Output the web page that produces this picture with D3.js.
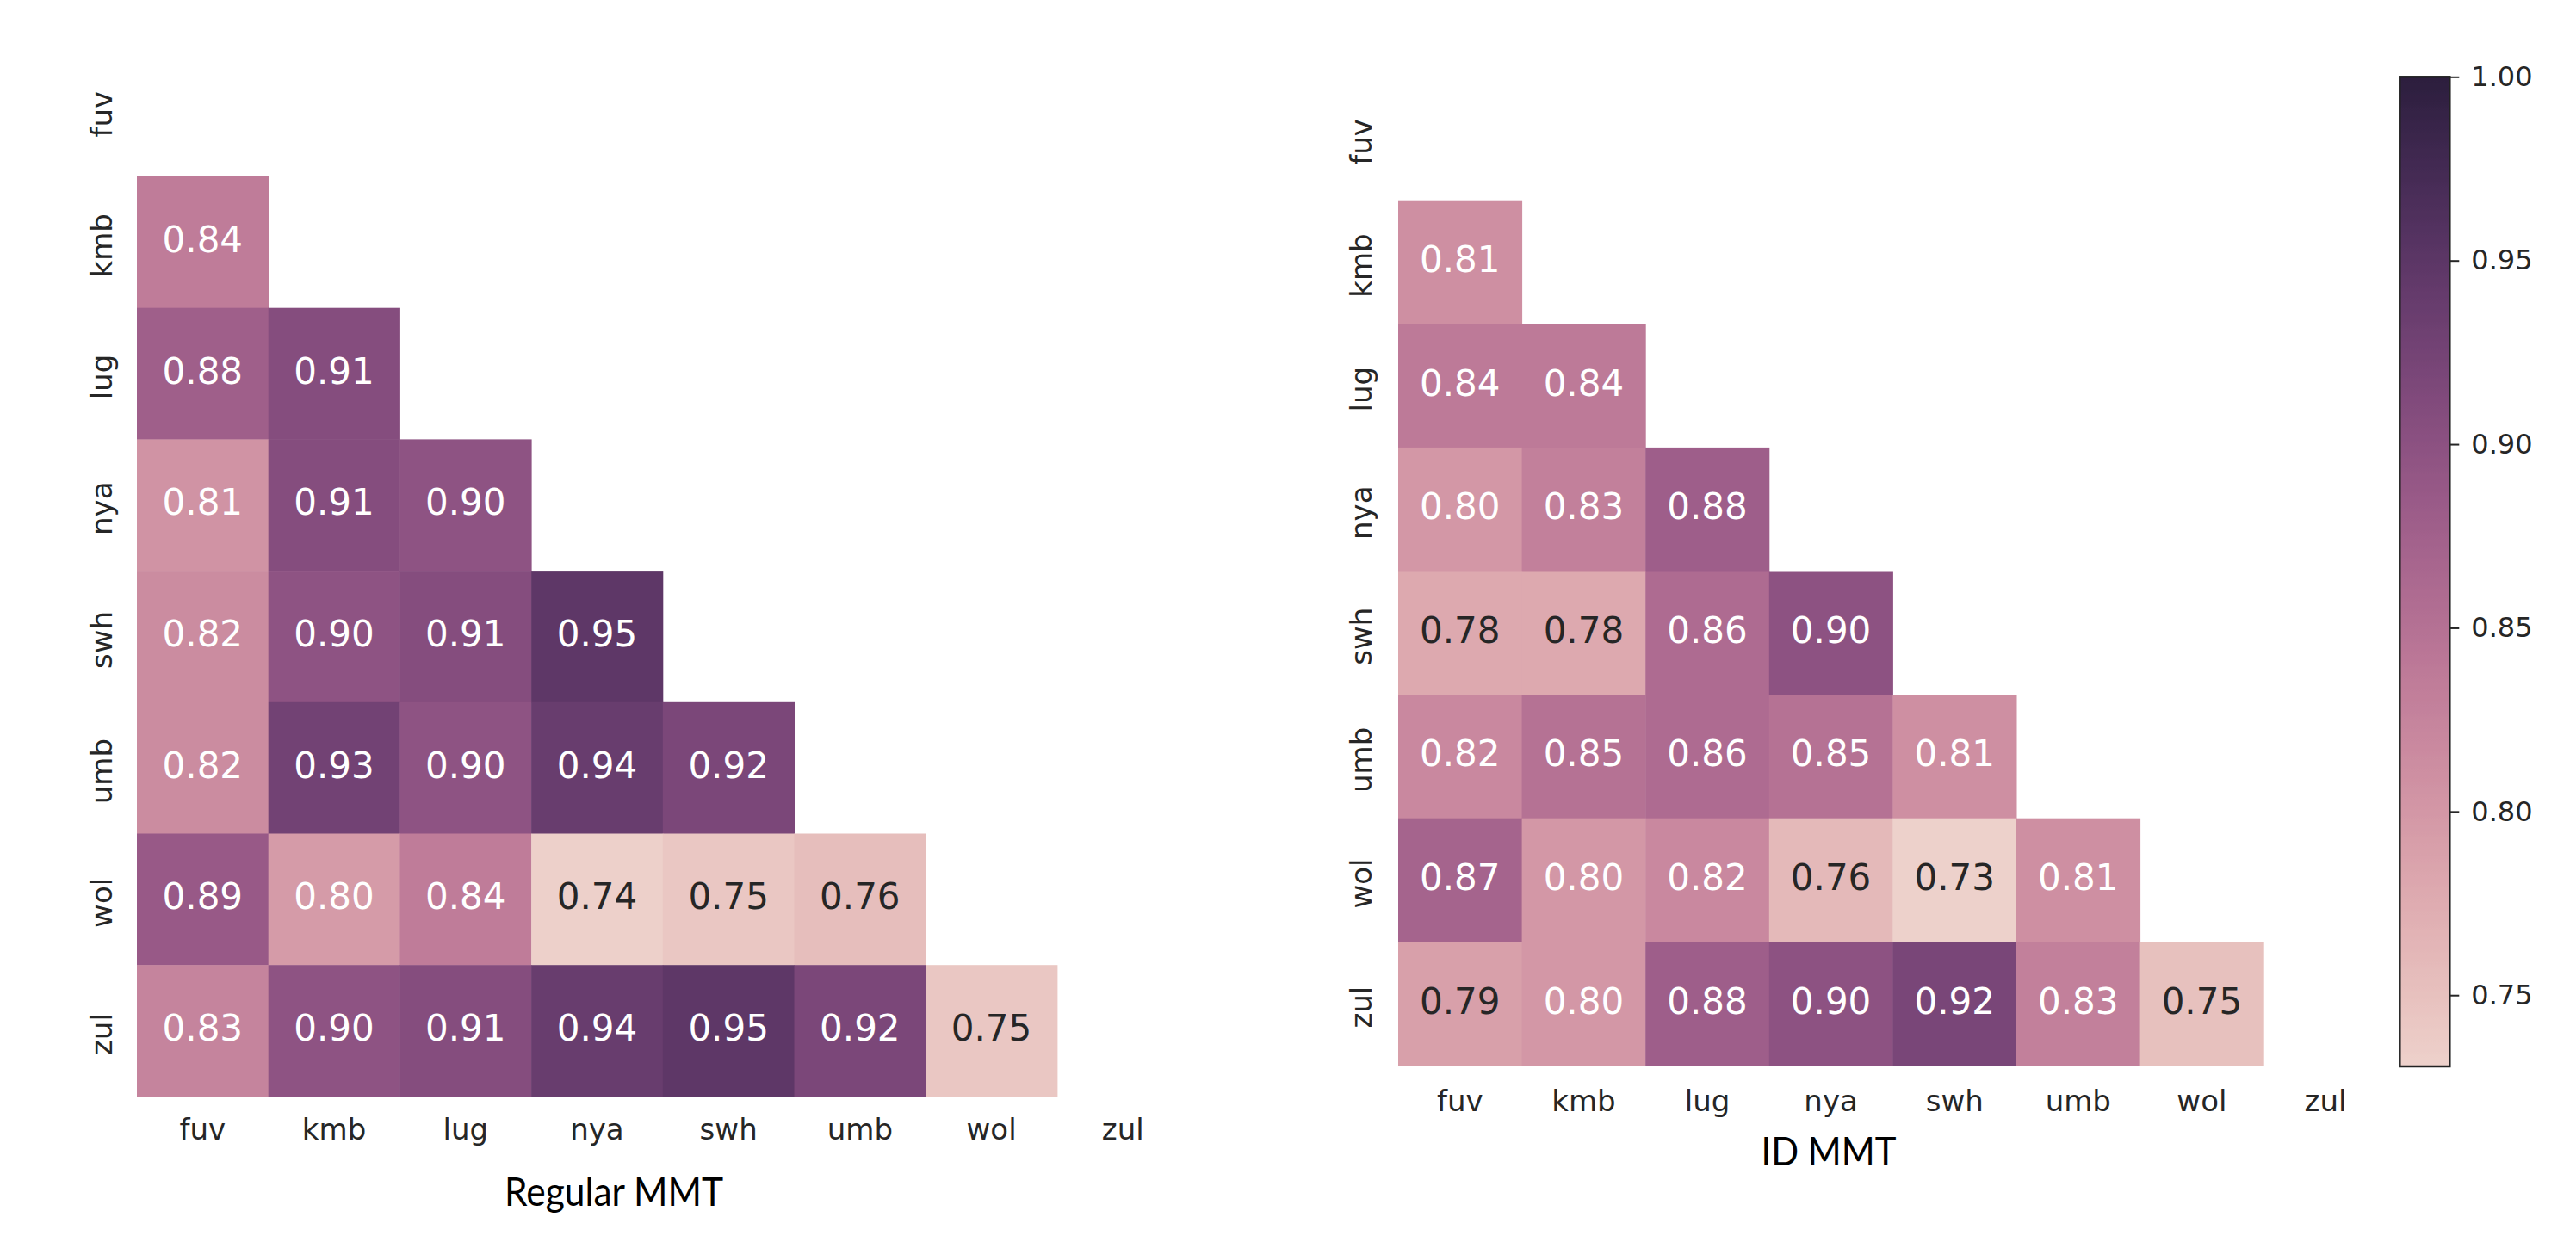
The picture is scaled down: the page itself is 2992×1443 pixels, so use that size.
<!DOCTYPE html>
<html>
<head>
<meta charset="utf-8">
<script src="https://cdn.jsdelivr.net/npm/d3@7"></script>
<style>
  body { margin: 0; background: #fff; }
  svg { display: block; }
</style>
</head>
<body>
<svg id="chart" width="2992" height="1443"></svg>
<script>
// languages on both axes
const langs = ["fuv", "kmb", "lug", "nya", "swh", "umb", "wol", "zul"];

// lower triangle, row i holds values against langs[0..i-1]
const regularMMT = [
  [],
  [0.84],
  [0.88, 0.91],
  [0.81, 0.91, 0.90],
  [0.82, 0.90, 0.91, 0.95],
  [0.82, 0.93, 0.90, 0.94, 0.92],
  [0.89, 0.80, 0.84, 0.74, 0.75, 0.76],
  [0.83, 0.90, 0.91, 0.94, 0.95, 0.92, 0.75]
];

const idMMT = [
  [],
  [0.81],
  [0.84, 0.84],
  [0.80, 0.83, 0.88],
  [0.78, 0.78, 0.86, 0.90],
  [0.82, 0.85, 0.86, 0.85, 0.81],
  [0.87, 0.80, 0.82, 0.76, 0.73, 0.81],
  [0.79, 0.80, 0.88, 0.90, 0.92, 0.83, 0.75]
];

// colour limits (vmin, vmax) of each heatmap
const regularRange = [0.737, 1.0];
const idRange = [0.7306, 1.0];
const colorbarTicks = [0.75, 0.80, 0.85, 0.90, 0.95, 1.00];

// seaborn's default cubehelix_palette(as_cmap=True)
const cubehelix = (() => {
  const start = 0, rot = 0.4, gamma = 1.0, hue = 0.8, light = 0.85, dark = 0.15;
  const chan = (p0, p1) => (x) => {
    const xg = Math.pow(x, gamma);
    const a = (hue * xg * (1 - xg)) / 2;
    const phi = 2 * Math.PI * (start / 3 + rot * x);
    return Math.min(1, Math.max(0, xg + a * (p0 * Math.cos(phi) + p1 * Math.sin(phi))));
  };
  const r = chan(-0.14861, 1.78277),
    g = chan(-0.29227, -0.90649),
    b = chan(1.97294, 0.0);
  const q = (v) => Math.min(255, Math.max(0, Math.floor(v * 256))) / 255;
  return (t) => {
    const x = q(light + (dark - light) * q(t));
    return [r(x), g(x), b(x)];
  };
})();

const toCss = (c) => d3.rgb(c[0] * 255, c[1] * 255, c[2] * 255).formatHex();

const luminance = (c) => {
  const lin = c.map((v) => (v <= 0.03928 ? v / 12.92 : Math.pow((v + 0.055) / 1.055, 2.4)));
  return 0.2126 * lin[0] + 0.7152 * lin[1] + 0.0722 * lin[2];
};

const svg = d3.select("#chart");
const tickColor = "#262626";

const drawHeatmap = (matrix, range, opts) => {
  const size = opts.cell * langs.length;
  const x = d3.scaleBand().domain(langs).range([opts.x0, opts.x0 + size]);
  const y = d3.scaleBand().domain(langs).range([opts.y0, opts.y0 + size]);
  const t = d3.scaleLinear().domain(range).range([0, 1]).clamp(true);

  const cells = matrix.flatMap((row, i) =>
    row.map((v, j) => ({ row: langs[i], col: langs[j], value: v }))
  );

  const g = svg.append("g");

  g.selectAll(".cell")
    .data(cells)
    .enter()
    .append("rect")
    .attr("class", "cell")
    .attr("x", (d) => x(d.col))
    .attr("y", (d) => y(d.row))
    .attr("width", x.bandwidth() + 0.5)
    .attr("height", y.bandwidth() + 0.5)
    .style("fill", (d) => toCss(cubehelix(t(d.value))));

  g.selectAll(".annot")
    .data(cells)
    .enter()
    .append("text")
    .attr("class", "annot")
    .attr("x", (d) => x(d.col) + x.bandwidth() / 2)
    .attr("y", (d) => y(d.row) + y.bandwidth() / 2 - 3)
    .attr("text-anchor", "middle")
    .attr("dominant-baseline", "central")
    .style("font-family", "DejaVu Sans")
    .style("font-size", "42px")
    .style("fill", (d) => (luminance(cubehelix(t(d.value))) > 0.408 ? tickColor : "#ffffff"))
    .text((d) => d.value.toFixed(2));

  // x axis
  const xAxis = g
    .append("g")
    .attr("transform", `translate(0, ${opts.y0 + size})`)
    .call(d3.axisBottom(x).tickSize(0));
  xAxis.select(".domain").remove();
  xAxis
    .selectAll("text")
    .attr("y", opts.xPad)
    .attr("dy", 0)
    .style("font-family", "DejaVu Sans")
    .style("font-size", "34px")
    .style("fill", tickColor);

  // y axis, labels read bottom to top
  const yAxis = g
    .append("g")
    .attr("transform", `translate(${opts.x0}, 0)`)
    .call(d3.axisLeft(y).tickSize(0));
  yAxis.select(".domain").remove();
  yAxis
    .selectAll("text")
    .attr("transform", "rotate(-90)")
    .attr("x", -4)
    .attr("y", -opts.yPad)
    .attr("dy", 0)
    .attr("text-anchor", "middle")
    .style("font-family", "DejaVu Sans")
    .style("font-size", "34px")
    .style("fill", tickColor);

  // title below the heatmap
  svg
    .append("text")
    .attr("x", opts.titleX)
    .attr("y", opts.titleY)
    .attr("text-anchor", "middle")
    .attr("textLength", opts.titleW)
    .attr("lengthAdjust", "spacingAndGlyphs")
    .style("font-family", "Lato")
    .style("font-size", "46px")
    .style("fill", "#000")
    .text(opts.title);

  return { x, y };
};

drawHeatmap(regularMMT, regularRange, {
  x0: 159, y0: 52.3, cell: 152.7, xPad: 50, yPad: 29,
  title: "Regular MMT", titleX: 713, titleY: 1401, titleW: 254
});

drawHeatmap(idMMT, idRange, {
  x0: 1624, y0: 89.1, cell: 143.6, xPad: 53, yPad: 31,
  title: "ID MMT", titleX: 2124, titleY: 1354, titleW: 157
});

// colorbar for the ID MMT panel
const cb = { x: 2787.3, w: 58, top: 89.3, bottom: 1239 };
const cbScale = d3.scaleLinear().domain(idRange).range([cb.bottom, cb.top]);

const grad = svg
  .append("defs")
  .append("linearGradient")
  .attr("id", "cb-grad")
  .attr("x1", 0).attr("y1", 1)
  .attr("x2", 0).attr("y2", 0);

grad
  .selectAll("stop")
  .data(d3.range(0, 257).map((i) => i / 256))
  .enter()
  .append("stop")
  .attr("offset", (d) => d)
  .attr("stop-color", (d) => toCss(cubehelix(Math.min(d, 0.9999))));

svg
  .append("rect")
  .attr("x", cb.x)
  .attr("y", cb.top)
  .attr("width", cb.w)
  .attr("height", cb.bottom - cb.top)
  .style("fill", "url(#cb-grad)")
  .style("stroke", "#222")
  .style("stroke-width", 2.5);

const cbAxis = svg
  .append("g")
  .attr("transform", `translate(${cb.x + cb.w}, 0)`)
  .call(
    d3.axisRight(cbScale)
      .tickValues(colorbarTicks)
      .tickSize(11)
      .tickPadding(14)
      .tickFormat(d3.format(".2f"))
  );
cbAxis.select(".domain").remove();
cbAxis.selectAll("line").style("stroke", tickColor).style("stroke-width", 2);
cbAxis
  .selectAll("text")
  .style("font-family", "DejaVu Sans")
  .style("font-size", "32px")
  .style("fill", tickColor);
</script>
</body>
</html>
